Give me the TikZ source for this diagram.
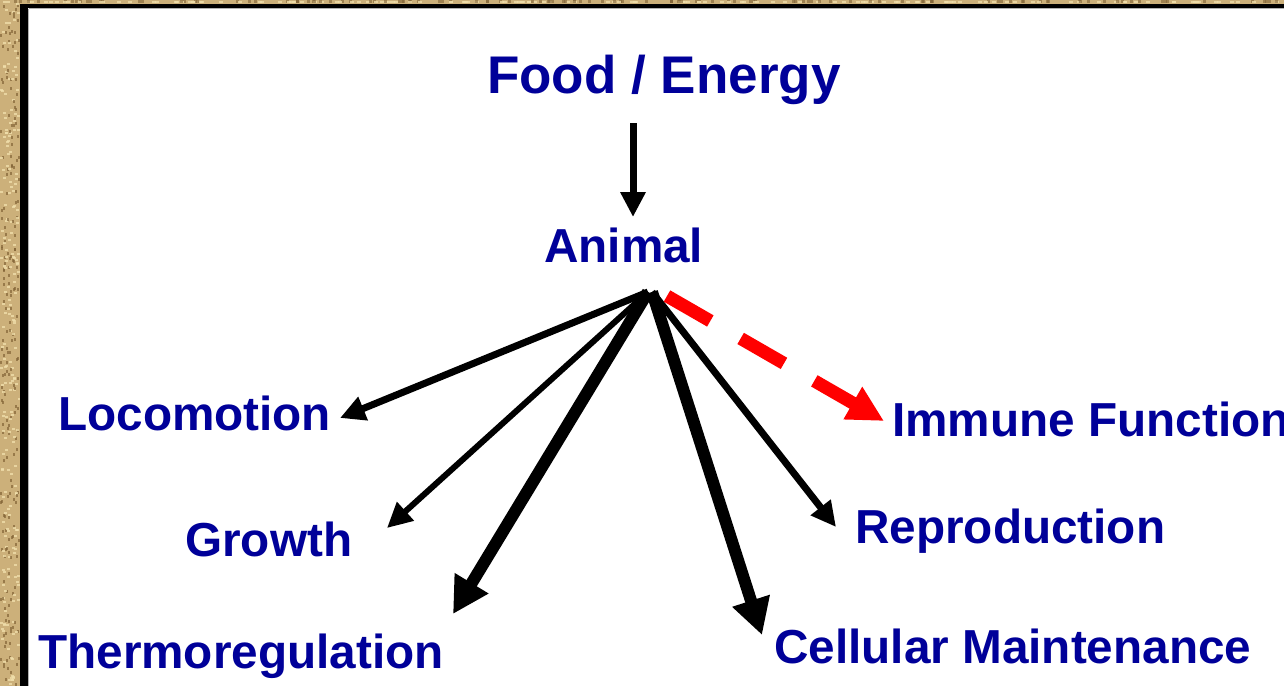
\documentclass[tikz,border=0pt]{standalone}
\usepackage{fontspec}
\setmainfont{Liberation Sans}
\usetikzlibrary{arrows.meta}
\definecolor{navy}{RGB}{0,0,153}
\definecolor{burlap}{RGB}{204,176,122}
\definecolor{burlapdark}{RGB}{130,100,55}
\definecolor{burlaplight}{RGB}{240,222,170}
\tikzset{
  lbl/.style={inner sep=0pt, anchor=base west, text=navy, font=\fontsize{47.7}{56}\selectfont\bfseries},
  title/.style={inner sep=0pt, anchor=base west, text=navy, font=\fontsize{53}{64}\selectfont\bfseries},
  thin arrow/.style={draw=black, line width=7pt, -{Triangle[length=25pt,width=24pt]}},
  thick arrow/.style={draw=black, line width=12pt, -{Triangle[length=36pt,width=37pt]}},
  red arrow/.style={draw=red, line width=13pt, dash pattern=on 50pt off 35pt, -{Triangle[length=36pt,width=35pt]}},
}
\begin{document}
\begin{tikzpicture}[x=1pt,y=-1pt]
\useasboundingbox (0,0) rectangle (1284,686);
% burlap background strips
\fill[burlap] (0,0) rectangle (20,686);
\fill[burlap] (0,0) rectangle (1284,4);
\pgfmathsetseed{7}
\foreach \i in {1,...,420}{
  \pgfmathsetmacro{\xx}{rnd*18}
  \pgfmathsetmacro{\yy}{rnd*684}
  \pgfmathsetmacro{\c}{rnd}
  \ifdim \c pt<0.5pt
    \fill[burlapdark,opacity=0.7] (\xx,\yy) rectangle ++(2,3);
  \else
    \fill[burlaplight,opacity=0.8] (\xx,\yy) rectangle ++(3,2);
  \fi
}
\foreach \i in {1,...,260}{
  \pgfmathsetmacro{\xx}{rnd*1280}
  \pgfmathsetmacro{\c}{rnd}
  \ifdim \c pt<0.5pt
    \fill[burlapdark,opacity=0.6] (\xx,0) rectangle ++(3,3);
  \else
    \fill[burlaplight,opacity=0.8] (\xx,1) rectangle ++(4,2);
  \fi
}
% black frame
\fill[black] (20,4) rectangle (28,686);
\fill[black] (20,4) rectangle (1284,8);
\fill[white] (28,8) rectangle (1284,686);
\draw[gray!60, line width=0.8pt] (28.6,8.6) -- (1284,8.6);
\draw[gray!60, line width=0.8pt] (28.6,8.6) -- (28.6,686);

% text nodes
\node[title] (food) at (487,93) {Food / Energy};
\node[lbl] (animal) at (544,262) {Animal};
\node[lbl] (loco) at (58,430) {Locomotion};
\node[lbl] (immune) at (892,436) {Immune Function};
\node[lbl] (growth) at (185,556) {Growth};
\node[lbl] (repro) at (855,543) {Reproduction};
\node[lbl] (thermo) at (38,668) {Thermoregulation};
\node[lbl] (cell) at (774,663) {Cellular Maintenance};

% arrow anchor coordinates
\coordinate (foodS) at (633,123);
\coordinate (animalT) at (633,217);
\coordinate (apex) at (648,292);
\coordinate (apexR) at (652,292);
\coordinate (redS) at (667,296);
\coordinate (locoT) at (340,418);
\coordinate (growthT) at (387,528);
\coordinate (thermoT) at (453,614);
\coordinate (cellT) at (762,635);
\coordinate (reproT) at (836,527);
\coordinate (immuneT) at (884,421);

% connectors
\draw[thin arrow] (foodS) -- (animalT);
\draw[thin arrow] (apex) -- (locoT);
\draw[thin arrow, line width=6pt] (apex) -- (growthT);
\draw[thick arrow] (apex) -- (thermoT);
\draw[thick arrow] (apexR) -- (cellT);
\draw[thin arrow] (apexR) -- (reproT);
\draw[red arrow] (redS) -- (immuneT);
\end{tikzpicture}
\end{document}
